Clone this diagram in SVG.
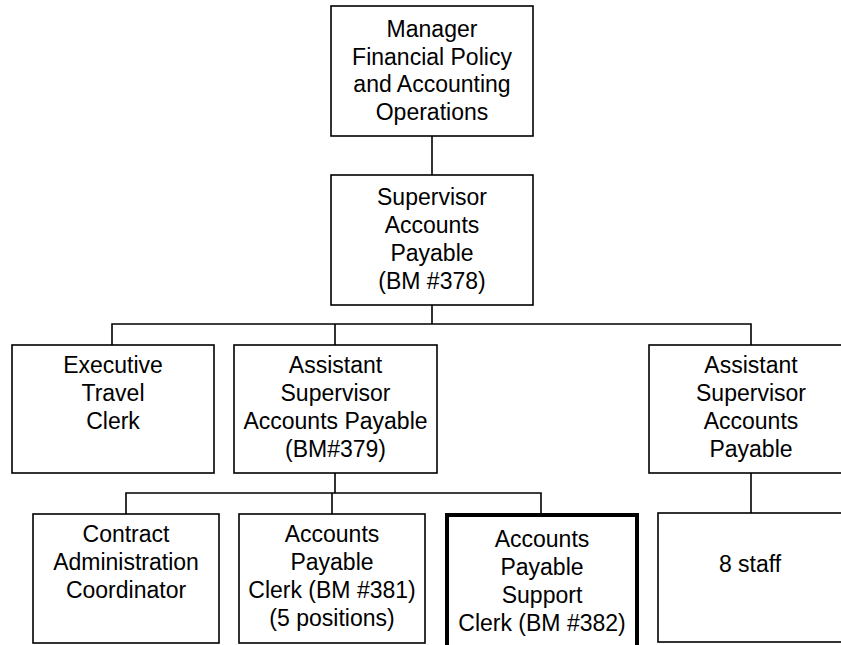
<svg xmlns="http://www.w3.org/2000/svg" width="841" height="645" viewBox="0 0 841 645">
<style>
.box{fill:#fff;stroke:#000;stroke-width:1.6}
.thick{fill:#fff;stroke:#000;stroke-width:4}
.ln{fill:none;stroke:#000;stroke-width:1.6}
text{font-family:"Liberation Sans",Arial,sans-serif;font-size:23px;fill:#000;text-anchor:middle}
</style>
<rect width="841" height="645" fill="#fff"/>
<g id="connectors">
<path class="ln" d="M432 136V175"/>
<path class="ln" d="M432 305V324M112 345V324H751V345M335 324V345"/>
<path class="ln" d="M335 473V493M126 514V493H541V515M332 493V514"/>
<path class="ln" d="M751 473V513"/>
</g>
<g id="manager">
<rect class="box" x="331" y="6" width="202" height="130"/>
<text x="432" y="37">Manager</text>
<text x="432" y="64.5">Financial Policy</text>
<text x="432" y="92">and Accounting</text>
<text x="432" y="119.5">Operations</text>
</g>
<g id="supervisor">
<rect class="box" x="331" y="175" width="202" height="130"/>
<text x="432" y="205">Supervisor</text>
<text x="432" y="233">Accounts</text>
<text x="432" y="261">Payable</text>
<text x="432" y="289">(BM #378)</text>
</g>
<g id="exec-travel">
<rect class="box" x="12" y="345" width="202" height="128"/>
<text x="113" y="373">Executive</text>
<text x="113" y="401">Travel</text>
<text x="113" y="429">Clerk</text>
</g>
<g id="asst-sup-379">
<rect class="box" x="234" y="345" width="203" height="128"/>
<text x="335.5" y="373">Assistant</text>
<text x="335.5" y="401">Supervisor</text>
<text x="335.5" y="429">Accounts Payable</text>
<text x="335.5" y="457">(BM#379)</text>
</g>
<g id="asst-sup-right">
<rect class="box" x="649" y="345" width="204" height="128"/>
<text x="751" y="373">Assistant</text>
<text x="751" y="401">Supervisor</text>
<text x="751" y="429">Accounts</text>
<text x="751" y="457">Payable</text>
</g>
<g id="contract-admin">
<rect class="box" x="33" y="514" width="186" height="129"/>
<text x="126" y="542">Contract</text>
<text x="126" y="570">Administration</text>
<text x="126" y="598">Coordinator</text>
</g>
<g id="ap-clerk">
<rect class="box" x="239" y="514" width="186" height="129"/>
<text x="332" y="542">Accounts</text>
<text x="332" y="570">Payable</text>
<text x="332" y="598">Clerk (BM #381)</text>
<text x="332" y="626">(5 positions)</text>
</g>
<g id="ap-support-clerk">
<rect class="thick" x="447" y="515" width="190" height="140"/>
<text x="542" y="547">Accounts</text>
<text x="542" y="575">Payable</text>
<text x="542" y="603">Support</text>
<text x="542" y="631">Clerk (BM #382)</text>
</g>
<g id="staff">
<rect class="box" x="658" y="513" width="190" height="129"/>
<text x="750" y="572">8 staff</text>
</g>
</svg>
